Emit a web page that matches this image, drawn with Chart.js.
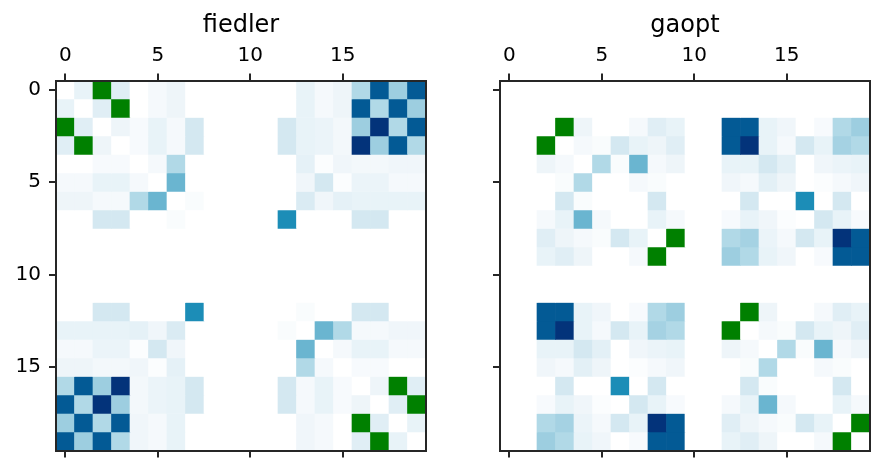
<!DOCTYPE html>
<html lang="en">
<head>
<meta charset="UTF-8">
<title>fiedler / gaopt</title>
<script src="https://cdn.jsdelivr.net/npm/chart.js"></script>
<style>
  body { margin: 0; background: #fff; }
  .panel { position: absolute; top: 0; width: 442px; height: 473px; }
</style>
</head>
<body>
<div class="panel" style="left:0"><canvas id="left" width="442" height="473"></canvas></div>
<div class="panel" style="left:442px"><canvas id="right" width="442" height="473"></canvas></div>
<script>
// -1 marks a highlighted (green) cell
const G = -1;
const cellLabels = ['0','1','2','3','4','5','6','7','8','9','10','11','12','13','14','15','16','17','18','19'];
const tickValues = [0, 5, 10, 15];
const titles = ['fiedler', 'gaopt'];

const fiedler = [
  [0, .1, G, .13, 0, .05, .08, 0, 0, 0, 0, 0, 0, .1, .05, .08, .3, .85, .35, .85],
  [.1, 0, .13, G, 0, .05, .08, 0, 0, 0, 0, 0, 0, .1, .05, .08, .85, .3, .85, .35],
  [G, .13, 0, .08, .04, .1, .05, .17, 0, 0, 0, 0, .17, .1, .09, .06, .35, 1, .3, .85],
  [.13, G, .08, 0, .04, .1, .05, .17, 0, 0, 0, 0, .17, .1, .09, .06, 1, .35, .85, .3],
  [0, 0, .04, .04, 0, .05, .3, 0, 0, 0, 0, 0, 0, .11, .02, .07, .06, .06, .07, .07],
  [.05, .05, .1, .1, .05, 0, .5, 0, 0, 0, 0, 0, 0, .07, .17, .02, .09, .09, .05, .05],
  [.08, .08, .05, .05, .3, .5, 0, .03, 0, 0, 0, 0, 0, .15, .07, .11, .1, .1, .1, .1],
  [0, 0, .17, .17, 0, 0, .03, 0, 0, 0, 0, 0, .65, 0, 0, 0, .17, .17, 0, 0],
  [0, 0, 0, 0, 0, 0, 0, 0, 0, 0, 0, 0, 0, 0, 0, 0, 0, 0, 0, 0],
  [0, 0, 0, 0, 0, 0, 0, 0, 0, 0, 0, 0, 0, 0, 0, 0, 0, 0, 0, 0],
  [0, 0, 0, 0, 0, 0, 0, 0, 0, 0, 0, 0, 0, 0, 0, 0, 0, 0, 0, 0],
  [0, 0, 0, 0, 0, 0, 0, 0, 0, 0, 0, 0, 0, 0, 0, 0, 0, 0, 0, 0],
  [0, 0, .17, .17, 0, 0, 0, .65, 0, 0, 0, 0, 0, .03, 0, 0, .17, .17, 0, 0],
  [.1, .1, .1, .1, .11, .07, .15, 0, 0, 0, 0, 0, .03, 0, .5, .3, .05, .05, .07, .07],
  [.05, .05, .09, .09, .02, .17, .07, 0, 0, 0, 0, 0, 0, .5, 0, .05, .1, .1, .05, .05],
  [.08, .08, .06, .06, .07, .02, .11, 0, 0, 0, 0, 0, 0, .3, .05, 0, .04, .04, 0, 0],
  [.3, .85, .35, 1, .06, .09, .1, .17, 0, 0, 0, 0, .17, .05, .1, .04, 0, .08, G, .13],
  [.85, .3, 1, .35, .06, .09, .1, .17, 0, 0, 0, 0, .17, .05, .1, .04, .08, 0, .13, G],
  [.35, .85, .3, .85, .07, .05, .1, 0, 0, 0, 0, 0, 0, .07, .05, 0, G, .13, 0, .1],
  [.85, .35, .85, .3, .07, .05, .1, 0, 0, 0, 0, 0, 0, .07, .05, 0, .13, G, .1, 0]
];

const gaopt = [
  [0, 0, 0, 0, 0, 0, 0, 0, 0, 0, 0, 0, 0, 0, 0, 0, 0, 0, 0, 0],
  [0, 0, 0, 0, 0, 0, 0, 0, 0, 0, 0, 0, 0, 0, 0, 0, 0, 0, 0, 0],
  [0, 0, 0, G, .08, 0, 0, .05, .13, .1, 0, 0, .85, .85, .1, .07, 0, .04, .3, .35],
  [0, 0, G, 0, .05, .03, .17, .1, .08, .13, 0, 0, .85, 1, .1, .05, .17, .1, .33, .3],
  [0, 0, .08, .05, 0, .3, .03, .5, .05, .08, 0, 0, .1, .1, .17, .12, 0, .07, .09, .1],
  [0, 0, 0, .03, .3, 0, 0, .05, .03, 0, 0, 0, .07, .05, .12, .08, 0, .02, .05, .07],
  [0, 0, 0, .17, .03, 0, 0, 0, .17, 0, 0, 0, 0, .17, 0, 0, .65, 0, .17, 0],
  [0, 0, .05, .1, .5, .05, 0, 0, .1, .05, 0, 0, .04, .1, .07, .02, 0, .17, .1, .04],
  [0, 0, .13, .08, .05, .03, .17, .1, 0, G, 0, 0, .3, .33, .09, .05, .17, .1, 1, .85],
  [0, 0, .1, .13, .08, 0, 0, .05, G, 0, 0, 0, .35, .3, .1, .07, 0, .04, .85, .85],
  [0, 0, 0, 0, 0, 0, 0, 0, 0, 0, 0, 0, 0, 0, 0, 0, 0, 0, 0, 0],
  [0, 0, 0, 0, 0, 0, 0, 0, 0, 0, 0, 0, 0, 0, 0, 0, 0, 0, 0, 0],
  [0, 0, .85, .85, .1, .07, 0, .04, .3, .35, 0, 0, 0, G, .08, 0, 0, .05, .13, .1],
  [0, 0, .85, 1, .1, .05, .17, .1, .33, .3, 0, 0, G, 0, .05, .03, .17, .1, .08, .13],
  [0, 0, .1, .1, .17, .12, 0, .07, .09, .1, 0, 0, .08, .05, 0, .3, .03, .5, .05, .08],
  [0, 0, .07, .05, .12, .08, 0, .02, .05, .07, 0, 0, 0, .03, .3, 0, 0, .05, .03, 0],
  [0, 0, 0, .17, 0, 0, .65, 0, .17, 0, 0, 0, 0, .17, .03, 0, 0, 0, .17, 0],
  [0, 0, .04, .1, .07, .02, 0, .17, .1, .04, 0, 0, .05, .1, .5, .05, 0, 0, .1, .05],
  [0, 0, .3, .33, .09, .05, .17, .1, 1, .85, 0, 0, .13, .08, .05, .03, .17, .1, 0, G],
  [0, 0, .35, .3, .1, .07, 0, .04, .85, .85, 0, 0, .1, .13, .08, 0, 0, .05, G, 0]
];

// colour map stops (value -> rgb)
const cmap = [
  [0, [255, 255, 255]], [.02, [251, 253, 254]], [.05, [245, 249, 252]],
  [.08, [238, 245, 249]], [.1, [232, 243, 248]], [.13, [224, 238, 245]],
  [.17, [212, 232, 241]], [.3, [177, 217, 231]], [.35, [157, 206, 224]],
  [.5, [106, 181, 208]], [.65, [28, 141, 183]], [.85, [3, 90, 149]], [1, [3, 51, 122]]
];

function cellColor(v) {
  if (v < 0) return '#008000';
  for (let i = 1; i < cmap.length; i++) {
    if (v <= cmap[i][0]) {
      const [a, ca] = cmap[i - 1], [b, cb] = cmap[i];
      const t = (v - a) / (b - a);
      const c = ca.map((x, k) => Math.round(x + (cb[k] - x) * t));
      return `rgb(${c[0]},${c[1]},${c[2]})`;
    }
  }
  return 'rgb(3,51,122)';
}

Chart.defaults.font.family = 'DejaVu Sans';
Chart.defaults.color = '#000';

const axisColor = '#262626';

function makeChart(id, matrix, title, leftWidth, rightPad, showYLabels) {
  const datasets = matrix.map((row, r) => ({
    data: row.map(() => [r - 0.5, r + 0.5]),
    backgroundColor: row.map(cellColor),
    borderWidth: 0,
    barPercentage: 1,
    categoryPercentage: 1,
    grouped: false
  }));

  const gridOpts = { display: true, drawOnChartArea: false, drawTicks: true, tickLength: 7,
                     color: axisColor, lineWidth: 2, offset: false };
  // spines drawn above the cells
  const borderOpts = { display: true, color: axisColor, width: 2, z: 1 };
  const setTicks = s => { s.ticks = tickValues.map(v => ({ value: v })); };

  return new Chart(document.getElementById(id), {
    type: 'bar',
    data: { labels: cellLabels, datasets: datasets },
    options: {
      responsive: false,
      animation: false,
      layout: { padding: { left: 0, right: rightPad, top: 0, bottom: 0 } },
      plugins: { legend: { display: false }, tooltip: { enabled: false } },
      scales: {
        x: {
          type: 'category', position: 'top', offset: true,
          grid: gridOpts, border: borderOpts,
          ticks: { autoSkip: false, maxRotation: 0, padding: 6, font: { size: 20 } },
          title: { display: true, text: title, font: { size: 24 }, padding: { top: 11, bottom: 0 } },
          afterBuildTicks: setTicks,
          afterFit: s => { s.height = 80.5; }
        },
        x2: {
          type: 'category', position: 'bottom', offset: true,
          grid: gridOpts, border: borderOpts,
          ticks: { display: false, autoSkip: false },
          afterBuildTicks: setTicks,
          afterFit: s => { s.height = 22.5; }
        },
        y: {
          type: 'linear', position: 'left', min: -0.5, max: 19.5, reverse: true,
          grid: gridOpts, border: borderOpts,
          ticks: { display: showYLabels, padding: 8, font: { size: 20 } },
          afterBuildTicks: setTicks,
          afterFit: s => { s.width = leftWidth; }
        },
        yr: {
          type: 'linear', position: 'right', min: -0.5, max: 19.5, reverse: true,
          grid: { display: false }, border: borderOpts,
          ticks: { display: false },
          afterFit: s => { s.width = 0; }
        }
      }
    }
  });
}

makeChart('left', fiedler, titles[0], 56, 16, true);
makeChart('right', gaopt, titles[1], 58, 14, false);
</script>
</body>
</html>
